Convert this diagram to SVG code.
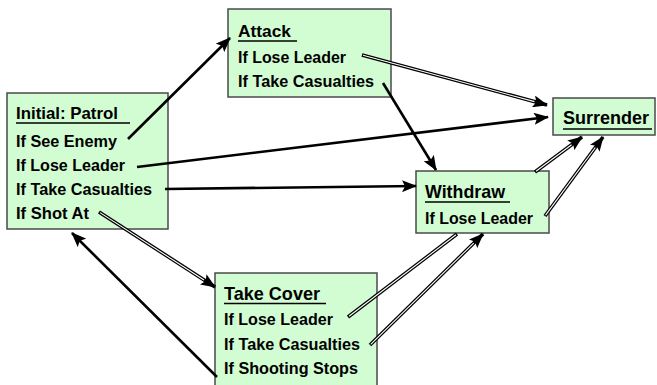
<svg xmlns="http://www.w3.org/2000/svg" width="657" height="385" viewBox="0 0 657 385">
<style>
.box{fill:#d2fcd2;stroke:#4a4a4a;stroke-width:1.5}
.t{font-family:"Liberation Sans",Arial,sans-serif;font-weight:bold;font-size:17px;fill:#000}
.h{font-size:17px}
.h18{font-size:19px}
.ul{stroke:#000;stroke-width:1.6}
.solid{stroke:#000;stroke-width:2.6;fill:none}
.dbl{stroke:#000;stroke-width:3.6;fill:none}
.inner{stroke:#fff;stroke-width:1.1;fill:none}
</style>
<defs>
<marker id="ah" markerUnits="userSpaceOnUse" markerWidth="15" markerHeight="12" refX="14" refY="6" orient="auto">
<path d="M0,0 L15,6 L0,12 L3,6 z" fill="#000"/>
</marker>
</defs>
<rect width="657" height="385" fill="#fff"/>
<g id="node-initial">
<rect class="box" x="7" y="93" width="161" height="136"/>
<text class="t h" x="16" y="119" textLength="102" lengthAdjust="spacingAndGlyphs">Initial: Patrol</text>
<line class="ul" x1="16" y1="123" x2="130" y2="123"/>
<text class="t" x="16" y="147" textLength="101" lengthAdjust="spacingAndGlyphs">If See Enemy</text>
<text class="t" x="16" y="171" textLength="109" lengthAdjust="spacingAndGlyphs">If Lose Leader</text>
<text class="t" x="16" y="195" textLength="136" lengthAdjust="spacingAndGlyphs">If Take Casualties</text>
<text class="t" x="16" y="219" textLength="73" lengthAdjust="spacingAndGlyphs">If Shot At</text>
</g>
<g id="node-attack">
<rect class="box" x="228" y="9" width="163" height="88"/>
<text class="t h" x="238" y="37" textLength="53" lengthAdjust="spacingAndGlyphs">Attack</text>
<line class="ul" x1="238" y1="41" x2="297" y2="41"/>
<text class="t" x="238" y="63" textLength="108" lengthAdjust="spacingAndGlyphs">If Lose Leader</text>
<text class="t" x="238" y="87" textLength="136" lengthAdjust="spacingAndGlyphs">If Take Casualties</text>
</g>
<g id="node-surrender">
<rect class="box" x="553" y="98" width="102" height="37"/>
<text class="t h18" x="563" y="124" textLength="86" lengthAdjust="spacingAndGlyphs">Surrender</text>
<line class="ul" x1="563" y1="129" x2="652" y2="129"/>
</g>
<g id="node-withdraw">
<rect class="box" x="416" y="171" width="133" height="62"/>
<text class="t h18" x="425" y="198" textLength="80" lengthAdjust="spacingAndGlyphs">Withdraw</text>
<line class="ul" x1="425" y1="202" x2="510" y2="202"/>
<text class="t" x="425" y="224" textLength="108" lengthAdjust="spacingAndGlyphs">If Lose Leader</text>
</g>
<g id="node-takecover">
<rect class="box" x="215" y="273" width="162" height="120"/>
<text class="t h18" x="224" y="300" textLength="96" lengthAdjust="spacingAndGlyphs">Take Cover</text>
<line class="ul" x1="224" y1="303.5" x2="326" y2="303.5"/>
<text class="t" x="224" y="325" textLength="109" lengthAdjust="spacingAndGlyphs">If Lose Leader</text>
<text class="t" x="224" y="350" textLength="136" lengthAdjust="spacingAndGlyphs">If Take Casualties</text>
<text class="t" x="224" y="374" textLength="134" lengthAdjust="spacingAndGlyphs">If Shooting Stops</text>
</g>
<g id="connectors">
<line class="solid" x1="128" y1="139" x2="230" y2="38" marker-end="url(#ah)"/>
<line class="solid" x1="137" y1="167" x2="548" y2="117" marker-end="url(#ah)"/>
<line class="solid" x1="165" y1="189" x2="416" y2="186" marker-end="url(#ah)"/>
<line class="dbl" x1="99" y1="212" x2="215" y2="287" marker-end="url(#ah)"/>
<line class="inner" x1="100" y1="212.6" x2="204" y2="280"/>
<line class="solid" x1="217" y1="377" x2="72" y2="233" stroke-width="2.2" marker-end="url(#ah)"/>
<line class="dbl" x1="362" y1="55" x2="547" y2="105" marker-end="url(#ah)"/>
<line class="inner" x1="363" y1="55.3" x2="534.5" y2="101.6"/>
<line class="solid" x1="383" y1="83" x2="436" y2="170" marker-end="url(#ah)"/>
<line class="dbl" x1="535" y1="172" x2="582" y2="137" marker-end="url(#ah)"/>
<line class="inner" x1="536" y1="171.3" x2="571.6" y2="144.8"/>
<line class="dbl" x1="545" y1="216" x2="603" y2="137" marker-end="url(#ah)"/>
<line class="inner" x1="545.6" y1="215.2" x2="595.3" y2="147.5"/>
<line class="dbl" x1="348" y1="317" x2="457" y2="234"/>
<line class="inner" x1="349" y1="316.2" x2="456" y2="234.8"/>
<line class="dbl" x1="370" y1="345" x2="483" y2="234" marker-end="url(#ah)"/>
<line class="inner" x1="370.7" y1="344.3" x2="473.7" y2="243.1"/>
</g>
</svg>
